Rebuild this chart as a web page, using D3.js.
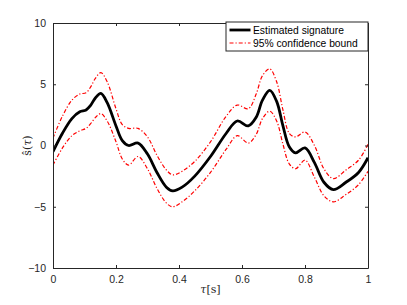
<!DOCTYPE html>
<html><head><meta charset="utf-8">
<script src="https://cdn.jsdelivr.net/npm/d3@7"></script>
<style>body{margin:0;background:#fff}svg{display:block}</style>
</head><body>
<script>
const tau = [0,0.03,0.06,0.085,0.105,0.12,0.135,0.152,0.172,0.2,0.22,0.24,0.27,0.3,0.33,0.36,0.38,0.41,0.45,0.5,0.55,0.585,0.62,0.645,0.665,0.688,0.71,0.73,0.75,0.77,0.8,0.83,0.86,0.89,0.93,0.97,1];
const estimated = [-0.5,1.0,2.2,2.75,2.9,3.3,3.9,4.25,3.5,1.6,0.4,0.0,0.2,-0.7,-2.2,-3.4,-3.7,-3.4,-2.5,-0.9,1.0,2.0,1.6,2.3,3.7,4.5,3.6,1.6,-0.1,-0.6,-0.2,-1.4,-3.0,-3.6,-3.0,-2.2,-1.0];
const upper = [0.6,2.4,3.7,4.2,4.3,4.8,5.5,5.95,5.2,3.0,1.7,1.4,1.4,0.7,-0.8,-2.0,-2.4,-2.1,-1.3,0.3,2.4,3.3,3.0,4.2,5.7,6.25,5.2,2.9,1.0,0.7,1.1,0.0,-1.9,-2.7,-2.0,-1.2,0.1];
const lower = [-1.6,-0.2,0.8,1.2,1.4,1.8,2.3,2.6,2.0,0.3,-1.1,-1.6,-0.9,-1.9,-3.5,-4.7,-5.0,-4.6,-3.7,-2.2,-0.3,0.8,0.2,0.9,2.2,2.8,2.0,0.1,-1.5,-1.9,-1.2,-2.6,-4.1,-4.6,-4.0,-3.2,-2.1];
const xTicks = [0,0.2,0.4,0.6,0.8,1];
const yTicks = [-10,-5,0,5,10];
const legendLabels = ["Estimated signature","95% confidence bound"];

const W=407,H=305;
const L=53,R=368,T=23,B=268;
const svg=d3.select("body").append("svg").attr("width",W).attr("height",H);
const x=d3.scaleLinear().domain([0,1]).range([L,R]);
const y=d3.scaleLinear().domain([-10,10]).range([B,T]);
const font="'Liberation Sans', Arial, Helvetica, sans-serif";
const axCol="#262626";

svg.append("clipPath").attr("id","c").append("rect").attr("x",L).attr("y",T).attr("width",R-L).attr("height",B-T);
const g=svg.append("g").attr("clip-path","url(#c)");
const line=d3.line().x((d,i)=>x(tau[i])).y(d=>y(d)).curve(d3.curveCatmullRom.alpha(0.5));
g.append("path").attr("d",line(estimated)).attr("fill","none").attr("stroke","#000").attr("stroke-width",2.8);
[upper,lower].forEach(arr=>{
  g.append("path").attr("d",line(arr)).attr("fill","none").attr("stroke","#ff0000").attr("stroke-width",1.2).attr("stroke-dasharray","4,2,1.2,2");
});

const axB=d3.axisBottom(x).tickValues(xTicks).tickSizeInner(-3).tickSizeOuter(0).tickPadding(8).tickFormat(d=>d===0||d===1?d3.format("d")(d):d3.format(".1f")(d));
const axT=d3.axisTop(x).tickValues(xTicks).tickSizeInner(-3).tickSizeOuter(0).tickFormat("");
const axL=d3.axisLeft(y).tickValues(yTicks).tickSizeInner(-3).tickSizeOuter(0).tickPadding(7);
const axR=d3.axisRight(y).tickValues(yTicks).tickSizeInner(-3).tickSizeOuter(0).tickFormat("");
function style(sel){sel.selectAll("path").attr("stroke",axCol).attr("stroke-width",1);sel.selectAll("line").attr("stroke",axCol);sel.selectAll("text").attr("fill",axCol).style("font-family",font).style("font-size","10.5px");}
svg.append("g").attr("transform",`translate(0,${B})`).call(axB).call(style);
svg.append("g").attr("transform",`translate(0,${T})`).call(axT).call(style);
svg.append("g").attr("transform",`translate(${L},0)`).call(axL).call(style);
svg.append("g").attr("transform",`translate(${R},0)`).call(axR).call(style);

svg.append("text").attr("x",(L+R)/2).attr("y",293).attr("text-anchor","middle").style("font-family","'DejaVu Serif', 'Liberation Serif', serif").style("font-size","11px").attr("fill",axCol)
  .html('<tspan font-style="italic">τ</tspan>[s]');
svg.append("text").attr("transform",`translate(31,${(T+B)/2}) rotate(-90)`).attr("text-anchor","middle").style("font-family","'DejaVu Serif', 'Liberation Serif', serif").style("font-size","11px").attr("fill",axCol)
  .html('ŝ(<tspan font-style="italic">τ</tspan>)');

const lg=svg.append("g");
lg.append("rect").attr("x",226).attr("y",T-1).attr("width",R-226).attr("height",29).attr("fill","#fff").attr("stroke",axCol).attr("stroke-width",1);
const rows=[{y:30,stroke:"#000",w:2.8,dash:null},{y:43,stroke:"#ff0000",w:1.2,dash:"4,2,1.2,2"}];
rows.forEach((r,i)=>{
  lg.append("line").attr("x1",229.5).attr("x2",250.5).attr("y1",r.y).attr("y2",r.y).attr("stroke",r.stroke).attr("stroke-width",r.w).attr("stroke-dasharray",r.dash);
  lg.append("text").attr("x",253).attr("y",r.y).attr("dy","0.35em").style("font-family",font).style("font-size","10.3px").attr("fill","#000").text(legendLabels[i]);
});
</script>
</body></html>
